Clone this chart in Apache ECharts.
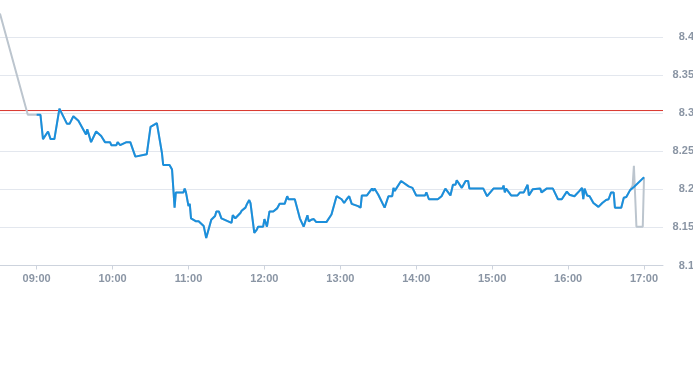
<!DOCTYPE html>
<html>
<head>
<meta charset="utf-8">
<script src="https://cdn.jsdelivr.net/npm/echarts@6/dist/echarts.min.js"></script>
<style>html,body{margin:0;padding:0;background:#fff;}#c{width:693px;height:365px;}</style>
</head>
<body>
<div id="c"></div>
<script>
// Pre-market (grey) points
const preTimes = ["08:31", "08:53"];
const preValues = [8.431, 8.298];

// Main session (blue) points
const mainTimes = ["09:00","09:03","09:05","09:09","09:11","09:14","09:18","09:24","09:26","09:29","09:33","09:39","09:40","09:43","09:47","09:51","09:54","09:58","09:59","10:03","10:04","10:06","10:11","10:14","10:18","10:27","10:30","10:35","10:39","10:40","10:45","10:47","10:49","10:50","10:56","10:57","10:58","11:00","11:01","11:02","11:04","11:06","11:08","11:12","11:14","11:18","11:21","11:22","11:24","11:26","11:34","11:35","11:37","11:41","11:42","11:45","11:46","11:48","11:49","11:52","11:54","11:55","11:59","12:00","12:02","12:04","12:07","12:10","12:12","12:16","12:18","12:19","12:24","12:28","12:31","12:34","12:35","12:37","12:39","12:41","12:49","12:53","12:57","13:01","13:03","13:05","13:07","13:09","13:14","13:16","13:17","13:21","13:25","13:26","13:27","13:30","13:35","13:38","13:41","13:42","13:43","13:48","13:54","13:57","14:00","14:07","14:08","14:10","14:17","14:20","14:23","14:27","14:29","14:31","14:32","14:36","14:39","14:41","14:42","14:53","14:56","15:01","15:08","15:09","15:10","15:11","15:15","15:20","15:22","15:25","15:28","15:29","15:32","15:38","15:39","15:43","15:48","15:52","15:55","15:59","16:01","16:05","16:09","16:11","16:12","16:13","16:15","16:17","16:20","16:24","16:27","16:30","16:32","16:34","16:36","16:37","16:42","16:44","16:45","16:46","16:49","16:52","17:00"];
const mainValues = [8.298,8.298,8.266,8.276,8.266,8.266,8.306,8.286,8.286,8.296,8.290,8.272,8.279,8.262,8.276,8.270,8.262,8.262,8.258,8.258,8.262,8.258,8.262,8.262,8.243,8.246,8.282,8.287,8.248,8.232,8.232,8.226,8.176,8.196,8.196,8.201,8.196,8.178,8.181,8.162,8.160,8.158,8.158,8.152,8.136,8.160,8.165,8.171,8.171,8.162,8.156,8.166,8.162,8.169,8.172,8.176,8.180,8.186,8.182,8.143,8.147,8.151,8.151,8.161,8.151,8.171,8.171,8.175,8.181,8.181,8.191,8.187,8.187,8.162,8.151,8.166,8.158,8.160,8.161,8.157,8.157,8.167,8.191,8.187,8.182,8.187,8.191,8.181,8.178,8.176,8.192,8.192,8.201,8.198,8.201,8.193,8.176,8.191,8.191,8.202,8.198,8.211,8.204,8.202,8.192,8.192,8.196,8.187,8.187,8.191,8.201,8.192,8.206,8.206,8.212,8.202,8.211,8.211,8.201,8.201,8.191,8.201,8.201,8.205,8.196,8.201,8.192,8.192,8.196,8.196,8.206,8.192,8.200,8.201,8.196,8.201,8.201,8.187,8.187,8.197,8.193,8.191,8.198,8.202,8.187,8.201,8.192,8.191,8.182,8.177,8.182,8.186,8.187,8.196,8.196,8.176,8.176,8.189,8.191,8.190,8.199,8.203,8.216];

// Closing auction (grey) points
const auctionTimes = ["16:51", "16:52", "16:54", "16:59"];
const auctionValues = [8.205, 8.231, 8.151, 8.151];

// Reference (previous close) level
const refLevel = 8.3035;

// Y axis range and step
const yMin = 8.1, yMax = 8.45, yStep = 0.05;
// X axis range (times)
const xStart = "08:00", xEnd = "17:15";

function toMin(s){ const p = s.split(":"); return (+p[0])*60 + (+p[1]); }
function fmt(m){ const h = Math.floor(m/60), mm = m%60; return (h<10?"0":"")+h+":"+(mm<10?"0":"")+mm; }

const mainData = mainTimes.map((t,i)=>[toMin(t), mainValues[i]]);
const auctionStart = toMin(auctionTimes[0]);
const greyData = []
  .concat(preTimes.map((t,i)=>[toMin(t), preValues[i]]))
  .concat(mainData.filter(d=>d[0] < auctionStart))
  .concat(auctionTimes.map((t,i)=>[toMin(t), auctionValues[i]]))
  .concat([mainData[mainData.length-1]]);

const chart = echarts.init(document.getElementById('c'), null, {renderer:'canvas'});
const xMin = toMin(xStart), xMax = toMin(xEnd);
const pxPerMin = 608/480;
const leftOffset = -(toMin("08:31") - xMin) * pxPerMin;
const refData = [[xMin, refLevel], [xMax, refLevel]];

chart.setOption({
  animation: false,
  backgroundColor: '#fff',
  grid: { left: leftOffset, right: 30, top: -1, bottom: 99.5, containLabel: false, outerBoundsMode: 'none' },
  xAxis: {
    type: 'value', min: xMin, max: xMax, interval: 60,
    axisLine: { show: true, lineStyle: { color: '#cdd3dd', width: 1 } },
    axisTick: { show: true, length: 4, lineStyle: { color: '#cdd3dd' } },
    splitLine: { show: false },
    axisLabel: { formatter: v => fmt(v), color: '#8a95a4', fontSize: 11, fontWeight: 'bold', margin: 8, showMaxLabel: false,
      fontFamily: 'Liberation Sans, Arial, sans-serif' }
  },
  yAxis: {
    type: 'value', position: 'right', min: yMin, max: yMax, interval: yStep,
    axisLine: { show: false }, axisTick: { show: false },
    splitLine: { show: true, lineStyle: { color: '#e3e7ee', width: 1 } },
    axisLabel: { color: '#8a95a4', fontSize: 11, fontWeight: 'bold', align: 'right', margin: 31, showMaxLabel: false,
      fontFamily: 'Liberation Sans, Arial, sans-serif' }
  },
  series: [
    {
      type: 'line', data: refData, showSymbol: false, symbol: 'none', silent: true,
      lineStyle: { color: '#d9342b', width: 1 }, z: 0
    },
    {
      type: 'line', data: greyData, showSymbol: false, symbol: 'none',
      lineStyle: { color: '#bcc5ce', width: 2 }, z: 1
    },
    {
      type: 'line', data: mainData, showSymbol: false, symbol: 'none',
      lineStyle: { color: '#1a8fdc', width: 2 }, z: 2
    }
  ]
});
</script>
</body>
</html>
